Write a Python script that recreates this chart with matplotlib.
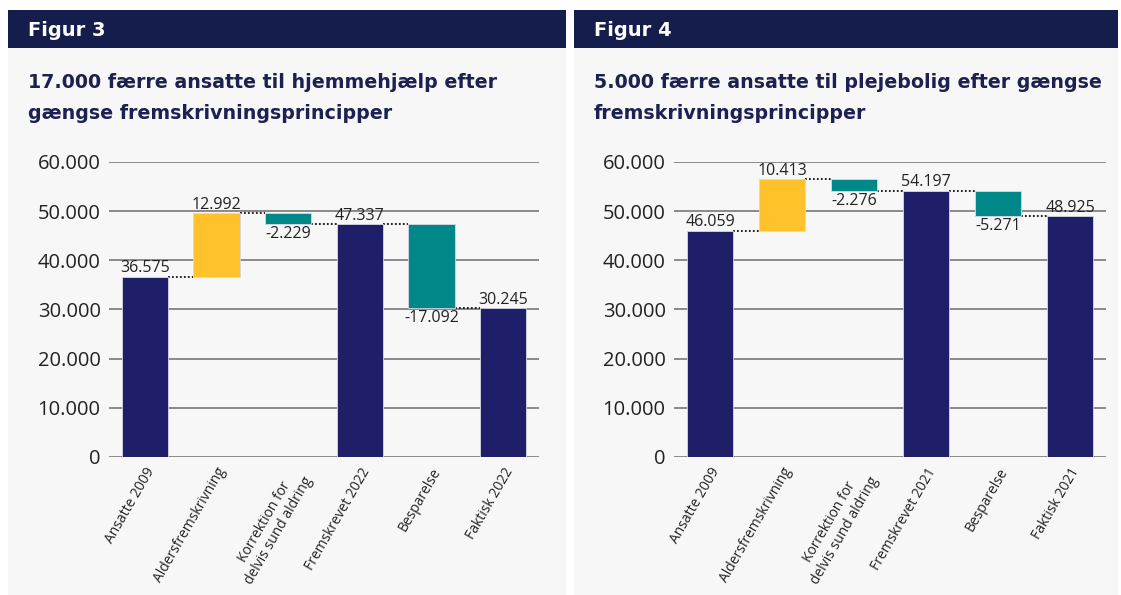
import matplotlib
matplotlib.use("Agg")
import matplotlib.pyplot as plt
import matplotlib.patches as mpatches
import numpy as np

# ---------------- data ----------------
categories_left = ["Ansatte 2009", "Aldersfremskrivning", "Korrektion for\ndelvis sund aldring",
                   "Fremskrevet 2022", "Besparelse", "Faktisk 2022"]
values_left = [36575, 12992, -2229, 47337, -17092, 30245]
labels_left = ["36.575", "12.992", "-2.229", "47.337", "-17.092", "30.245"]

categories_right = ["Ansatte 2009", "Aldersfremskrivning", "Korrektion for\ndelvis sund aldring",
                    "Fremskrevet 2021", "Besparelse", "Faktisk 2021"]
values_right = [46059, 10413, -2276, 54197, -5271, 48925]
labels_right = ["46.059", "10.413", "-2.276", "54.197", "-5.271", "48.925"]

kinds = ["total", "delta", "delta", "total", "delta", "total"]

yticks = [0, 10000, 20000, 30000, 40000, 50000, 60000]
ytick_labels = ["0", "10.000", "20.000", "30.000", "40.000", "50.000", "60.000"]

headers = ["Figur 3", "Figur 4"]
titles = ["17.000 færre ansatte til hjemmehjælp efter\ngængse fremskrivningsprincipper",
          "5.000 færre ansatte til plejebolig efter gængse\nfremskrivningsprincipper"]

# ---------------- style ----------------
NAVY = "#1f1f69"
YELLOW = "#ffc22a"
TEAL = "#008787"
HEADER = "#141d4b"
PANEL = "#f7f7f7"
TITLE_C = "#1b2150"

W, H = 1121, 595
fig = plt.figure(figsize=(W / 100, H / 100), dpi=100)
fig.patch.set_facecolor("white")


def px_rect(x0, y0, x1, y1):
    return [x0 / W, (H - y1) / H, (x1 - x0) / W, (y1 - y0) / H]


def add_panel(px0, px1, header, title):
    l, b, w, h = px_rect(px0, 10, px1, H)
    fig.patches.append(mpatches.Rectangle((l, b), w, h, transform=fig.transFigure,
                                          facecolor=PANEL, edgecolor="none", zorder=-2))
    l, b, w, h = px_rect(px0, 10, px1, 48)
    fig.patches.append(mpatches.Rectangle((l, b), w, h, transform=fig.transFigure,
                                          facecolor=HEADER, edgecolor="none", zorder=-1))
    fig.text((px0 + 20) / W, 1 - 30 / H, header, color="white", fontsize=14,
             fontfamily="DejaVu Sans", fontweight="bold", va="center", ha="left")
    fig.text((px0 + 20) / W, 1 - 98 / H, title, color=TITLE_C, fontsize=13.7,
             fontfamily="DejaVu Sans", fontweight="bold", va="center", ha="left",
             linespacing=1.75)


def waterfall(ax, cats, vals, labs):
    x = np.arange(len(cats))
    bottoms, heights, colors, ends = [], [], [], []
    level = 0
    for v, k in zip(vals, kinds):
        if k == "total":
            bottoms.append(0)
            heights.append(v)
            colors.append(NAVY)
            level = v
        else:
            if v >= 0:
                bottoms.append(level)
                heights.append(v)
                colors.append(YELLOW)
            else:
                bottoms.append(level + v)
                heights.append(-v)
                colors.append(TEAL)
            level = level + v
        ends.append(level)
    bw = 0.65
    ax.bar(x, heights, bottom=bottoms, width=bw, color=colors, edgecolor="#d8d8e8",
           linewidth=0.6, zorder=3)
    for i in range(len(x) - 1):
        ax.plot([x[i] + bw / 2, x[i + 1] - bw / 2], [ends[i], ends[i]], color="#111111",
                linestyle=(0, (1, 1.2)), linewidth=1.3, zorder=2)
    for i, (v, k, lab) in enumerate(zip(vals, kinds, labs)):
        top = bottoms[i] + heights[i]
        if k == "delta" and v < 0:
            ax.text(x[i], bottoms[i] - 400, lab, ha="center", va="top", fontsize=11.5,
                    color="#222222", fontfamily="Open Sans", zorder=4)
        else:
            ax.text(x[i], top + 150, lab, ha="center", va="bottom", fontsize=11.5,
                    color="#222222", fontfamily="Open Sans", zorder=4)
    ax.set_xlim(-0.5, len(cats) - 0.5)
    ax.set_ylim(0, 60000)
    ax.set_yticks(yticks)
    ax.set_yticklabels(ytick_labels, fontsize=14.5, fontfamily="Open Sans", color="#222222")
    ax.set_xticks(x)
    ax.set_xticklabels(cats, rotation=60, ha="right", va="top", rotation_mode="anchor",
                       fontsize=10, fontfamily="Open Sans", color="#222222",
                       multialignment="center")
    ax.tick_params(axis="x", length=0, pad=6)
    ax.tick_params(axis="y", length=0, pad=6)
    ax.grid(axis="y", color="#8a8a8a", linewidth=1.4, zorder=0)
    ax.set_axisbelow(True)
    for s in ax.spines.values():
        s.set_visible(False)
    ax.patch.set_alpha(0)


add_panel(8, 566, headers[0], titles[0])
add_panel(574, 1118, headers[1], titles[1])

ax1 = fig.add_axes(px_rect(109, 162, 539, 457))
waterfall(ax1, categories_left, values_left, labels_left)
ax2 = fig.add_axes(px_rect(674, 162, 1106, 457))
waterfall(ax2, categories_right, values_right, labels_right)
ax1.set_zorder(2)
ax2.set_zorder(2)

fig.savefig("out.png", dpi=100, facecolor="white")
